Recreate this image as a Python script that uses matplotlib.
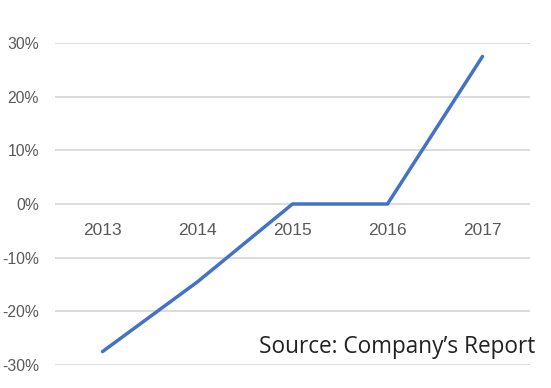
import matplotlib
matplotlib.use("Agg")
import matplotlib.pyplot as plt
from matplotlib.ticker import FuncFormatter

plt.rcParams["axes.unicode_minus"] = False

years = ["2013", "2014", "2015", "2016", "2017"]
growth = [-27.5, -14.5, 0.0, 0.0, 27.5]
y_ticks = [-30, -20, -10, 0, 10, 20, 30]
source_text = "Source: Company\u2019s Report"

fig = plt.figure(figsize=(5.51, 3.88), dpi=100)
ax = fig.add_axes([55/551, 1-365/388, 475/551, (365-43)/388])

x = list(range(len(years)))
ax.plot(x, growth, color="#4472c4", lw=2.5, solid_capstyle="round", zorder=3)

ax.set_xlim(-0.5, len(years)-0.5)
ax.set_ylim(-30, 30)
ax.set_yticks(y_ticks)
ax.yaxis.set_major_formatter(FuncFormatter(lambda v, p: f"{int(v)}%"))
ax.grid(axis="y", color="#d9d9d9", lw=1.3, zorder=0)
ax.set_axisbelow(True)
for s in ["top", "right", "left"]:
    ax.spines[s].set_visible(False)
ax.spines["bottom"].set_position(("data", 0))
ax.spines["bottom"].set_visible(False)
ax.set_xticks(x)
ax.set_xticklabels(years)
ax.tick_params(axis="x", length=0, pad=14, labelsize=12.5, labelcolor="#595959")
ax.tick_params(axis="y", length=0, pad=11.5, labelsize=11.3, labelcolor="#595959")
for lab in ax.get_yticklabels() + ax.get_xticklabels():
    lab.set_fontfamily("Liberation Sans")

fig.text(535/551, 1-353/388, source_text, ha="right", va="baseline",
         fontsize=16.3, color="#222222", family="Open Sans")

fig.savefig("out.png", dpi=100, facecolor="white")
